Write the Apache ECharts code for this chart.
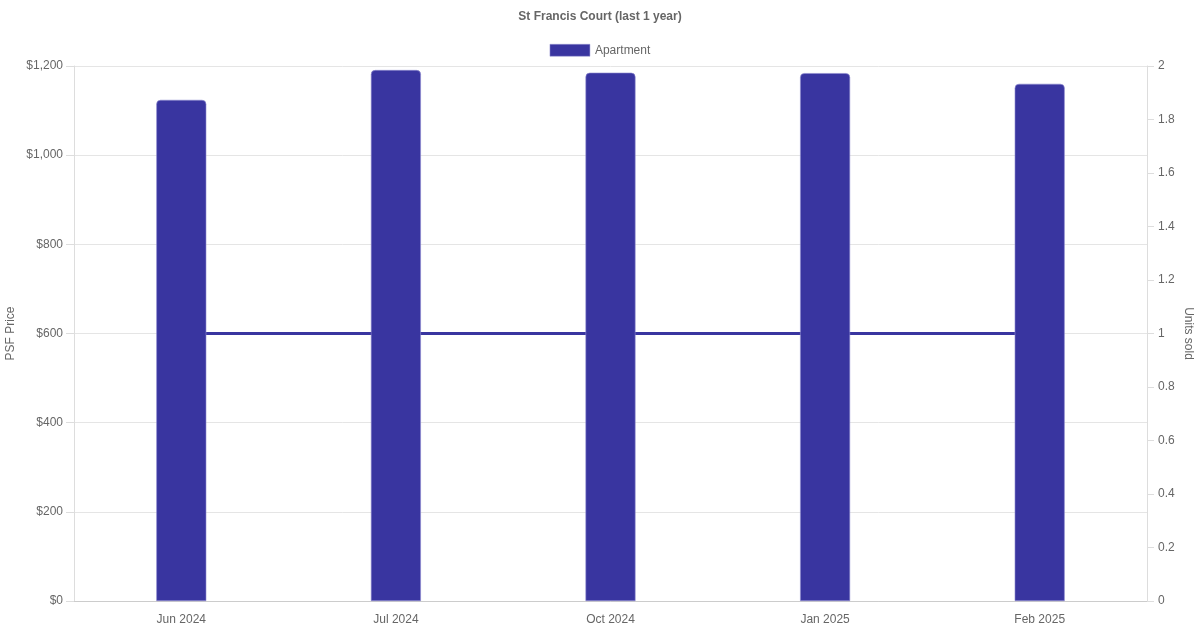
<!DOCTYPE html>
<html><head><meta charset="utf-8">
<script src="https://cdn.jsdelivr.net/npm/echarts@6/dist/echarts.min.js"></script>
<style>html,body{margin:0;padding:0;background:#fff}#c{width:1200px;height:630px}</style>
</head><body><div id="c"></div>
<script>
const categories = ['Jun 2024', 'Jul 2024', 'Oct 2024', 'Jan 2025', 'Feb 2025'];
const psfPrice = [1124, 1191, 1185, 1184, 1160];
const unitsSold = [1, 1, 1, 1, 1];
const leftTicks = {min: 0, max: 1200, interval: 200};
const rightTicks = {min: 0, max: 2, interval: 0.2};

const color = '#3935a0';
const font = 'Liberation Sans, Arial, Helvetica, sans-serif';
const chart = echarts.init(document.getElementById('c'));
chart.setOption({
  animation: false,
  textStyle: {fontFamily: font},
  title: {text: 'St Francis Court (last 1 year)', left: 'center', top: 6,
    textStyle: {fontSize: 12, fontWeight: 'bold', color: '#666', fontFamily: font}},
  legend: {data: ['Apartment'], top: 39, left: 'center', itemWidth: 40, itemHeight: 12, itemGap: 10,
    icon: 'rect', itemStyle: {borderWidth: 0.5, borderColor: '#9a98d4'},
    textStyle: {fontSize: 12, color: '#666', fontFamily: font}},
  grid: {left: 74, right: 53, top: 66, bottom: 29, containLabel: false, outerBoundsMode: 'none'},
  xAxis: {type: 'category', data: categories,
    axisLine: {lineStyle: {color: '#ccc'}}, axisTick: {show: false},
    axisLabel: {color: '#666', fontSize: 12, margin: 13, fontFamily: font},
    splitLine: {show: false}},
  yAxis: [
    {type: 'value', min: leftTicks.min, max: leftTicks.max, interval: leftTicks.interval,
      name: 'PSF Price', nameLocation: 'middle', nameGap: 57, nameMoveOverlap: false,
      nameTextStyle: {color: '#666', fontSize: 12, fontFamily: font},
      axisLine: {show: true, lineStyle: {color: '#ddd'}},
      axisTick: {show: true, length: 8, lineStyle: {color: '#ddd'}},
      axisLabel: {color: '#666', fontSize: 12, margin: 11, fontFamily: font,
        formatter: v => '$' + v.toLocaleString('en-US')},
      splitLine: {lineStyle: {color: '#e5e5e5'}}},
    {type: 'value', min: rightTicks.min, max: rightTicks.max, interval: rightTicks.interval,
      position: 'right',
      name: 'Units sold', nameLocation: 'middle', nameGap: 35, nameRotate: -90, nameMoveOverlap: false,
      nameTextStyle: {color: '#666', fontSize: 12, fontFamily: font},
      axisLine: {show: true, lineStyle: {color: '#ddd'}},
      axisTick: {show: true, length: 7, lineStyle: {color: '#ddd'}},
      axisLabel: {color: '#666', fontSize: 12, margin: 11, fontFamily: font,
        formatter: v => String(Math.round(v * 10) / 10)},
      splitLine: {show: false}}
  ],
  series: [
    {name: 'Units', type: 'line', yAxisIndex: 1, data: unitsSold, z: 1,
      symbol: 'none', lineStyle: {color: color, width: 3}, itemStyle: {color: color}},
    {name: 'Apartment', type: 'bar', yAxisIndex: 0, data: psfPrice, z: 3,
      barWidth: '23.3%',
      itemStyle: {color: color, borderColor: '#8f8cd0', borderWidth: 0.6, borderRadius: [4, 4, 0, 0]}}
  ]
});
</script></body></html>
